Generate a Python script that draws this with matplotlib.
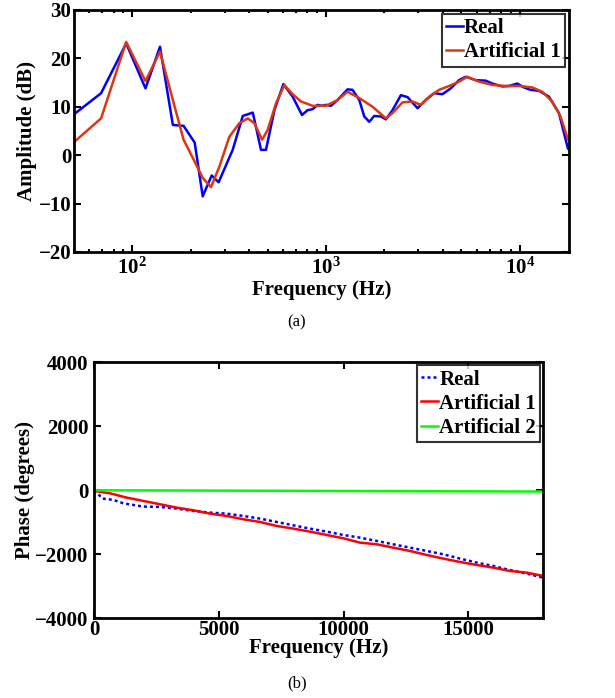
import numpy as np
import matplotlib
matplotlib.use("Agg")
import matplotlib.pyplot as plt
from matplotlib.ticker import LogLocator, NullFormatter

plt.rcParams['font.family'] = ['Liberation Serif', 'DejaVu Serif']
plt.rcParams['font.weight'] = 'bold'
plt.rcParams['mathtext.fontset'] = 'custom'
plt.rcParams['mathtext.rm'] = 'Liberation Serif:bold'
plt.rcParams['mathtext.bf'] = 'Liberation Serif:bold'
plt.rcParams['mathtext.it'] = 'Liberation Serif:bold'

# ---- Panel (a): amplitude ----
amp_real_f = [50, 69, 93, 117, 139, 162, 184, 210, 231, 257, 279, 330, 372, 419, 462, 490,
              542, 603, 673, 752, 804, 853, 905, 950, 1000, 1060, 1148, 1293, 1372, 1486, 1577,
              1673, 1775, 1922, 2039, 2207, 2437, 2637, 2972, 3277, 3617, 3993, 4408, 4866,
              5270, 5936, 6683, 7228, 8140, 8811, 9727, 10520, 11390, 12580, 14170, 15960, 17750]
amp_real_db = [8.45, 12.8, 23.1, 13.8, 22.4, 6.25, 6.05, 2.6, -8.5, -4.2, -5.6, 1.1, 8.1, 8.8, 1.1, 1.1,
               9.3, 14.7, 12.1, 8.3, 9.3, 9.5, 10.4, 10.2, 10.4, 10.2, 11.4, 13.6, 13.5, 11.4, 8.0,
               6.9, 8.1, 8.0, 7.4, 9.3, 12.4, 12.0, 9.7, 11.4, 12.8, 12.6, 13.8, 15.5,
               16.2, 15.5, 15.4, 14.8, 14.2, 14.3, 14.8, 14.0, 13.5, 13.3, 12.1, 8.7, 1.4]

amp_art1_f = [50, 69, 93, 117, 139, 162, 184, 214, 231, 255, 282, 317, 357, 395, 427, 468, 500,
              552, 610, 673, 743, 853, 1000, 1148, 1293, 1486, 1741, 2039, 2207, 2483, 2797,
              3091, 3414, 3840, 4325, 4866, 5370, 6166, 7228, 8474, 9930, 11620, 13080, 14730,
              16260, 17750]
amp_art1_db = [2.7, 7.6, 23.4, 15.3, 21.4, 11.4, 3.2, -2.0, -4.7, -6.6, -2.3, 3.8, 6.6, 7.6, 6.6, 3.2, 5.2,
               10.7, 14.5, 12.6, 11.1, 10.2, 10.2, 11.4, 13.1, 11.8, 10.0, 7.6, 8.7, 10.9, 11.1,
               10.4, 12.1, 13.5, 14.3, 15.2, 16.2, 15.2, 14.5, 14.3, 14.3, 14.0, 13.1, 11.1,
               8.0, 3.3]

# ---- Panel (b): phase ----
ph_real_f = [0, 160, 334, 762, 1163, 1964, 2633, 3300, 3970, 4637, 5305, 5973, 6642, 7310, 7978,
             8646, 9314, 9983, 10650, 11320, 11987, 12655, 13324, 13990, 14660, 15330, 15996,
             16660, 17330, 18000]
ph_real = [0, -125, -260, -300, -406, -510, -520, -573, -646, -698, -730, -802, -885, -990, -1094,
           -1198, -1292, -1396, -1480, -1583, -1688, -1792, -1896, -2000, -2135, -2260, -2365,
           -2490, -2604, -2729]

ph_art1_f = [0, 628, 1296, 1964, 2633, 3300, 3970, 4637, 5305, 5973, 6642, 7310, 7978, 8646,
             9314, 9983, 10650, 11320, 11987, 12655, 13324, 13990, 14660, 15330, 15996, 16660,
             17330, 18000]
ph_art1 = [-20, -94, -229, -333, -437, -542, -625, -729, -802, -906, -990, -1115, -1198, -1292,
           -1396, -1500, -1635, -1688, -1792, -1896, -2021, -2135, -2240, -2333, -2417, -2521,
           -2573, -2677]

ph_art2_f = [0, 18000]
ph_art2 = [0, -40]

fig = plt.figure(figsize=(6.15, 6.98), dpi=100)

FS = 15

def style(ax):
    for s in ax.spines.values():
        s.set_linewidth(2.0)
    ax.tick_params(which='both', direction='in', top=True, right=True, labelsize=FS, width=1.5)
    ax.tick_params(which='major', length=5, pad=2)
    ax.tick_params(which='minor', length=2.5)
    for lab in ax.get_xticklabels() + ax.get_yticklabels():
        lab.set_fontweight('bold')

# Panel (a)
ax1 = fig.add_axes([0.1203, 0.639, 0.805, 0.3467])
ax1.semilogx(amp_real_f, amp_real_db, color='#0000FF', lw=1.8, label='Real')
ax1.semilogx(amp_art1_f, amp_art1_db, color='#E0360F', lw=1.8, label='Artificial 1')
ax1.set_xlim(50, 18000)
ax1.set_ylim(-20, 30)
ax1.set_yticks([-20, -10, 0, 10, 20, 30])
ax1.xaxis.set_minor_locator(LogLocator(base=10, subs=np.arange(2, 10)))
ax1.xaxis.set_minor_formatter(NullFormatter())
style(ax1)
ax1.tick_params(axis='x', which='major', pad=4)
ax1.set_xlabel('Frequency (Hz)', fontsize=FS, fontweight='bold', labelpad=1)
ax1.set_ylabel('Amplitude (dB)', fontsize=FS, fontweight='bold', labelpad=1)
leg1 = ax1.legend(loc='upper right', bbox_to_anchor=(1.0, 1.0), borderaxespad=0.2,
                  fancybox=False, edgecolor='black', handlelength=0.8, handletextpad=0.05,
                  borderpad=0.2, labelspacing=0.2, prop={'weight': 'bold', 'size': FS})
leg1.get_frame().set_linewidth(1.5)
fig.text(0.483, 1 - 322 / 698, '(a)', ha='center', va='center', fontsize=12, fontweight='normal')

# Panel (b)
ax2 = fig.add_axes([0.1533, 0.1142, 0.730, 0.3668])
ax2.plot(ph_real_f, ph_real, color='#0000FF', lw=1.8, ls=(0, (1.2, 1.2)), label='Real')
ax2.plot(ph_art1_f, ph_art1, color='#FF0000', lw=1.8, label='Artificial 1')
ax2.plot(ph_art2_f, ph_art2, color='#00FF00', lw=1.8, label='Artificial 2')
ax2.set_xlim(0, 18000)
ax2.set_ylim(-4000, 4000)
ax2.set_yticks([-4000, -2000, 0, 2000, 4000])
ax2.set_xticks([0, 5000, 10000, 15000])
style(ax2)
ax2.tick_params(axis='x', which='major', pad=1)
ax2.tick_params(axis='y', which='major', pad=4)
ax2.set_xlabel('Frequency (Hz)', fontsize=FS, fontweight='bold', labelpad=-1)
ax2.set_ylabel('Phase (degrees)', fontsize=FS, fontweight='bold', labelpad=0)
leg2 = ax2.legend(loc='upper right', bbox_to_anchor=(1.0, 1.0), borderaxespad=0.15,
                  fancybox=False, edgecolor='black', handlelength=0.8, handletextpad=0.05,
                  borderpad=0.2, labelspacing=0.2, prop={'weight': 'bold', 'size': FS})
leg2.get_frame().set_linewidth(1.5)
fig.text(0.483, 1 - 683 / 698, '(b)', ha='center', va='center', fontsize=12, fontweight='normal')

fig.savefig('out.png', dpi=100)
